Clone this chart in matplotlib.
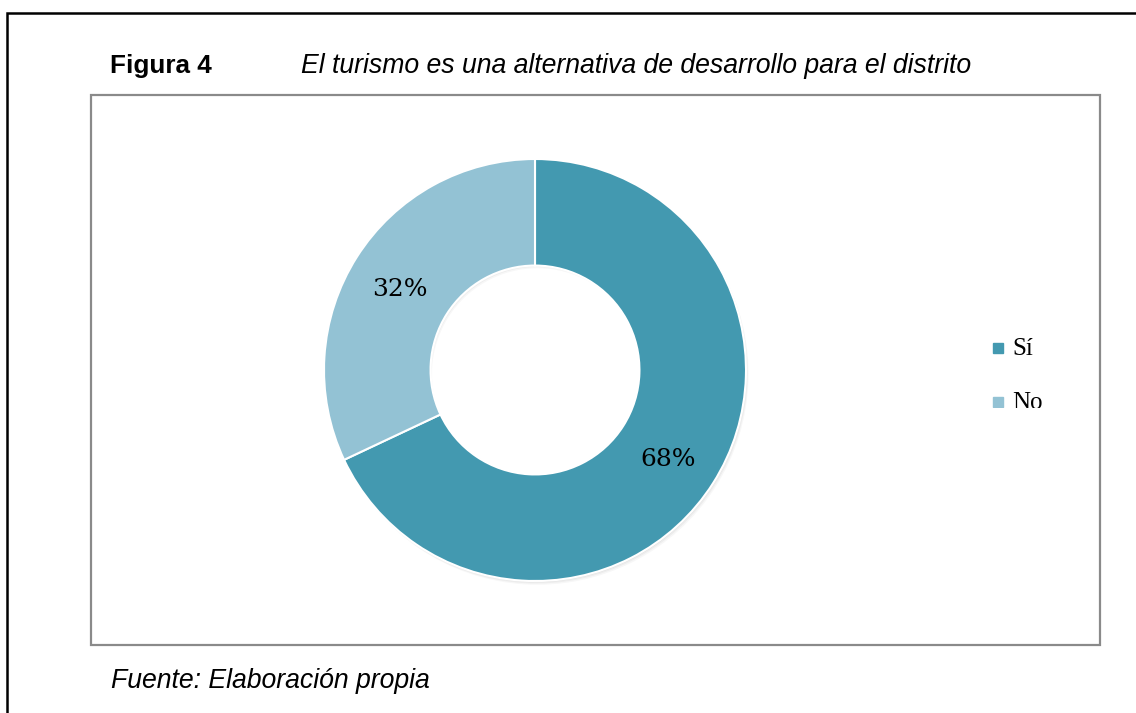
import matplotlib.pyplot as plt
from matplotlib.patches import Rectangle
from matplotlib.transforms import Bbox

# datos del gráfico
categorias = ['Sí', 'No']
porcentajes = [68, 32]
etiquetas = ['68%', '32%']
colores = ['#4399B0', '#93C2D4']

W, H = 1136, 713
fig = plt.figure(figsize=(W / 100, H / 100), dpi=100)


def fx(px):
    return px / W


def fy(py):
    return 1 - py / H


# marcos
fig.add_artist(Rectangle((fx(7), fy(713 + 20)), fx(1200), (733 - 13) / H,
                         fill=False, ec='black', lw=1.8, transform=fig.transFigure))
fig.add_artist(Rectangle((fx(91), fy(645)), fx(1100 - 91), (645 - 95) / H,
                         fill=False, ec='#8a8a8a', lw=1.6, transform=fig.transFigure))

# títulos
fig.text(fx(110), fy(66), 'Figura 4', fontsize=18.8, fontweight='bold',
         family='Liberation Sans', va='center')
fig.text(fx(301), fy(66), 'El turismo es una alternativa de desarrollo para el distrito',
         fontsize=19.2, style='italic', family='Liberation Sans', va='center')
fig.text(fx(111), fy(681), 'Fuente: Elaboración propia', fontsize=19.2,
         style='italic', family='Liberation Sans', va='center')

# dona
cx, cy, r = 535, 370, 211
ax = fig.add_axes([fx(cx - r), fy(cy + r), 2 * r / W, 2 * r / H])

# sombra suave
for i, a in enumerate([0.05, 0.04, 0.03]):
    ax.pie(porcentajes, startangle=90, counterclock=False, radius=1.0,
           center=(0.004 * (i + 1), -0.006 * (i + 1)),
           colors=['#000000', '#000000'],
           wedgeprops=dict(width=0.5, alpha=a, lw=0), frame=False)

wedges, _ = ax.pie(porcentajes, startangle=90, counterclock=False, radius=1.0,
                   colors=colores,
                   wedgeprops=dict(width=0.505, edgecolor='white', linewidth=1.5))
ax.set_xlim(-1, 1)
ax.set_ylim(-1, 1)
ax.set_aspect('auto')
ax.axis('off')

# etiquetas de porcentaje
ax.text((668 - cx) / r, (cy - 459) / r, etiquetas[0], fontsize=18,
        family='DejaVu Serif', ha='center', va='center')
ax.text((400 - cx) / r, (cy - 289) / r, etiquetas[1], fontsize=18,
        family='DejaVu Serif', ha='center', va='center')

# leyenda (recortada abajo como en el original)
clip = Bbox.from_extents(0, H - 408, W, H)
leg_y = [349, 403]
for cat, col, yy in zip(categorias, colores, leg_y):
    sq = Rectangle((fx(993), fy(yy + 4)), fx(10), 10 / H, color=col,
                   transform=fig.transFigure)
    sq.set_clip_box(clip)
    fig.add_artist(sq)
    t = fig.text(fx(1012), fy(yy), cat, fontsize=18, family='Liberation Serif',
                 va='center', clip_on=True)
    t.set_clip_box(clip)

fig.savefig('out.png', dpi=100)
